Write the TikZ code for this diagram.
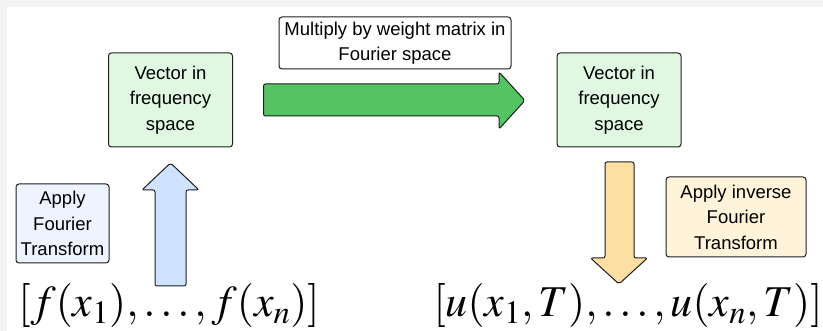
\documentclass[tikz,border=0pt]{standalone}
\usepackage{mathptmx}
\usepackage{fontspec}
\setmainfont{Liberation Sans}
\usepackage{xcolor}
\usepackage{tikz}
\usetikzlibrary{positioning}
\definecolor{frame}{RGB}{243, 243, 243}
\definecolor{ink}{RGB}{30, 30, 30}
\definecolor{freqfill}{RGB}{224, 248, 226}
\definecolor{multgreen}{RGB}{84, 196, 98}
\definecolor{fwdblue}{RGB}{207, 226, 255}
\definecolor{fwdlight}{RGB}{237, 244, 255}
\definecolor{invorange}{RGB}{253, 222, 163}
\definecolor{invlight}{RGB}{255, 243, 217}

\begin{document}
\begin{tikzpicture}[x=1pt, y=-1pt,
  box/.style={rectangle, draw=ink, line width=1pt, rounded corners=3pt,
              align=center, inner sep=0pt, font=\fontsize{18.5}{25.5}\selectfont},
  freq/.style={box, fill=freqfill, minimum width=124, minimum height=94},
  note/.style={box, fill=white},
  bigarrow/.style={draw=ink, line width=1pt, rounded corners=2pt, line join=round},
  vec/.style={inner sep=0pt, font=\fontsize{44}{50}\selectfont}
]
  \fill[frame] (0,0) rectangle (823,331);
  \fill[white] (7,7) rectangle (823,331);
  \useasboundingbox (0,0) rectangle (823,331);

  \node[freq] (freqL) at (170.5,100) {Vector in\\frequency\\space};
  \node[freq] (freqR) at (619,100)   {Vector in\\frequency\\space};

  \node[note, minimum width=232, minimum height=52] (multlbl) at (395,43)
       {Multiply by weight matrix in\\Fourier space};
  \node[note, fill=fwdlight, minimum width=93, minimum height=79] (fwdlbl) at (62.5,223.5)
       {Apply\\Fourier\\Transform};
  \node[note, fill=invlight, minimum width=140, minimum height=80] (invlbl) at (736,217)
       {Apply inverse\\Fourier\\Transform};

  % block arrows
  \draw[bigarrow, fill=multgreen] (263.5,84) -- (499,84) -- (499,72) -- (525,100.5)
       -- (499,129) -- (499,116) -- (263.5,116) -- cycle;
  \draw[bigarrow, fill=fwdblue] (155,286) -- (155,190) -- (142,190) -- (170.5,163)
       -- (199,190) -- (186,190) -- (186,286) -- cycle;
  \draw[bigarrow, fill=invorange] (605,162) -- (605,258) -- (590.5,258) -- (619,284)
       -- (647.5,258) -- (634,258) -- (634,162) -- cycle;

  \node[vec] (inputs)  at (169,306)   {$[f(x_1),\ldots,f(x_n)]$};
  \node[vec] (outputs) at (628,306) {$[u(x_1,T),\ldots,u(x_n,T)]$};
\end{tikzpicture}
\end{document}
